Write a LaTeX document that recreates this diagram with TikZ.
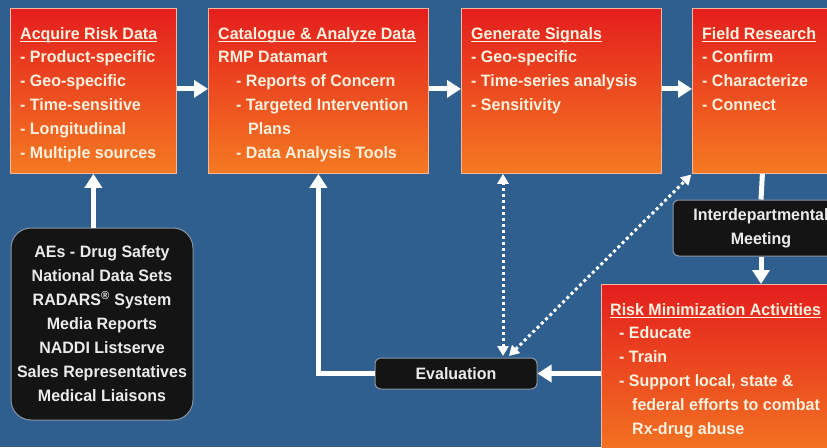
\documentclass[tikz,border=0pt]{standalone}
\usepackage{fontspec}
\setmainfont{Liberation Sans}[FakeStretch=0.97]
\usetikzlibrary{arrows.meta,calc}
\definecolor{bg}{HTML}{2E5F8E}
\definecolor{topred}{HTML}{E41E1E}
\definecolor{botor}{HTML}{F47A22}
\definecolor{cream}{HTML}{FBF1DE}
\definecolor{boxedge}{HTML}{F3B9A0}
\definecolor{blk}{HTML}{141414}
\definecolor{blkedge}{HTML}{8A96A3}
\newcommand\hdr[1]{\setbox0\hbox{#1}\rlap{\rule[-2.6pt]{\wd0}{1.2pt}}\box0}
\begin{document}
\begin{tikzpicture}[x=1pt,y=-1pt,
  redbox/.style={draw=boxedge, line width=0.8pt, top color=topred, bottom color=botor, anchor=north west, inner sep=0pt},
  boxtext/.style={anchor=north west, inner sep=0pt, align=left, text=cream, font=\bfseries\fontsize{16.5}{23.8}\selectfont},
  blkbox/.style={draw=blkedge, line width=1pt, fill=blk, rounded corners=6pt, text=black!8, font=\bfseries\fontsize{16.5}{24}\selectfont, align=center, inner sep=0pt},
  flow/.style={draw=white, line width=5pt, -{Triangle[width=17pt,length=14pt]}},
  dots/.style={draw=white, line width=3pt, dash pattern=on 3pt off 3pt, {Triangle[width=11pt,length=10pt]}-{Triangle[width=11pt,length=10pt]}}
]
\useasboundingbox (0,0) rectangle (827,447);
\fill[bg] (0,0) rectangle (827,447);
\clip (0,0) rectangle (827,447);

% boxes
\node[redbox, minimum width=166pt, minimum height=165pt] (acq) at (10,8) {};
\node[redbox, minimum width=220pt, minimum height=165pt] (cat) at (208,8) {};
\node[redbox, minimum width=200pt, minimum height=165pt] (gen) at (461,8) {};
\node[redbox, minimum width=140pt, minimum height=165pt] (fld) at (692,8) {};
\node[redbox, minimum width=240pt, minimum height=180pt] (risk) at (601,284) {};

% texts
\node[boxtext] (acqt) at (20,27) {\hdr{Acquire Risk Data}\\- Product-specific\\- Geo-specific\\- Time-sensitive\\- Longitudinal\\- Multiple sources};
\node[boxtext] (catt) at (218,27) {\hdr{Catalogue \& Analyze Data}\\RMP Datamart\\\hspace{18pt}- Reports of Concern\\\hspace{18pt}- Targeted Intervention\\\hspace{30pt}Plans\\\hspace{18pt}- Data Analysis Tools};
\node[boxtext] (gent) at (471,27) {\hdr{Generate Signals}\\- Geo-specific\\- Time-series analysis\\- Sensitivity};
\node[boxtext] (fldt) at (702,27) {\hdr{Field Research}\\- Confirm\\- Characterize\\- Connect};
\node[boxtext] (riskt) at (610,303) {\hdr{Risk Minimization Activities}\\\hspace{9pt}- Educate\\\hspace{9pt}- Train\\\hspace{9pt}- Support local, state \&\\\hspace{22pt}federal efforts to combat\\\hspace{22pt}Rx-drug abuse};

% black boxes
\node[blkbox, rounded corners=20pt, minimum width=182pt, minimum height=192pt] (src) at (102,324) {AEs - Drug Safety\\National Data Sets\\RADARS\textsuperscript{\textregistered} System\\Media Reports\\NADDI Listserve\\Sales Representatives\\Medical Liaisons};
\node[blkbox, minimum width=162pt, minimum height=31pt] (eval) at (456,373.5) {Evaluation};
\node[blkbox, minimum width=176pt, minimum height=56pt] (meet) at (761,228) {Interdepartmental\\Meeting};

% flow arrows
\draw[flow] ([yshift=2pt]acq.east) -- ([yshift=2pt]cat.west);
\draw[flow] ([yshift=2pt]cat.east) -- ([yshift=2pt]gen.west);
\draw[flow] ([yshift=2pt]gen.east) -- ([yshift=2pt]fld.west);
\draw[flow] (src.north -| acq.south) -- (acq.south);
\draw[flow] (eval.west) -| (cat.south);
\draw[flow] (eval.east -| risk.west) -- (eval.east);
\draw[white, line width=5pt] (fld.south) -- (meet.north);
\draw[flow] (meet.south) -- (meet.south |- risk.north);

% dotted arrows
\coordinate (ev1) at (503,356);
\coordinate (ev2) at (509,356);
\draw[dots] (ev1) -- (ev1 |- gen.south);
\draw[dots, shorten >=1pt] (ev2) -- (fld.south west);
\end{tikzpicture}
\end{document}
